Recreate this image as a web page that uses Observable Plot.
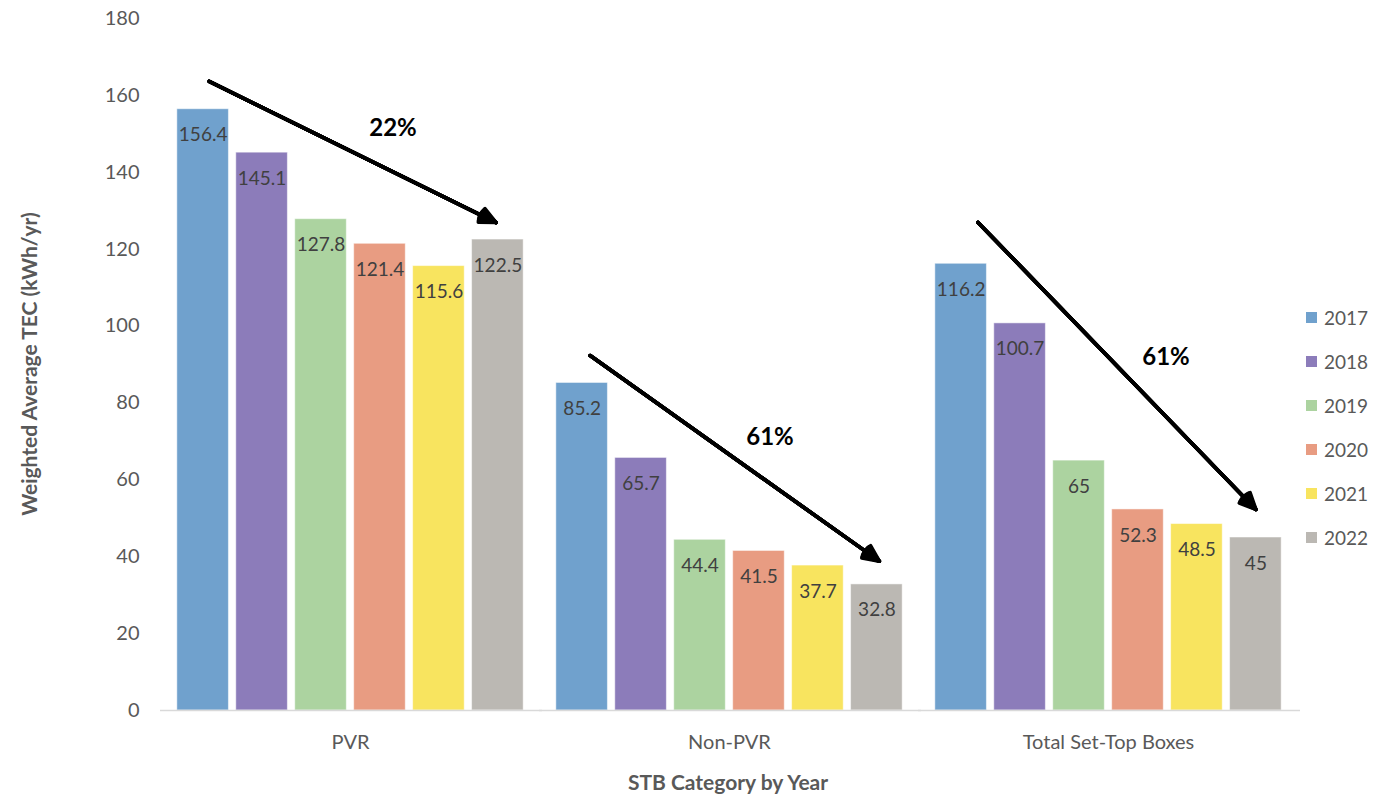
<!DOCTYPE html>
<html><head><meta charset="utf-8">
<script src="https://cdn.jsdelivr.net/npm/d3@7"></script>
<script src="https://cdn.jsdelivr.net/npm/@observablehq/plot@0.6"></script>
<style>
body{margin:0;background:#fff;}
#wrap{position:relative;width:1380px;height:795px;font-family:Lato, sans-serif;}
#ytitle{position:absolute;left:28px;top:364px;transform:translate(-50%,-50%) rotate(-90deg);white-space:nowrap;font-weight:bold;font-size:21px;color:#595959;}
#xtitle{position:absolute;left:728px;top:781px;transform:translate(-50%,-50%);white-space:nowrap;font-weight:bold;font-size:21px;color:#595959;}
#legend{position:absolute;left:1306px;top:295px;}
.item{display:flex;align-items:center;height:44px;font-size:19px;color:#595959;}
.sw{width:11px;height:11px;margin-right:7px;}
</style>
</head><body>
<div id="wrap"><div id="chart"></div><div id="ytitle"></div><div id="xtitle"></div><div id="legend"></div></div>
<script>
const categories = ["PVR", "Non-PVR", "Total Set-Top Boxes"];
const years = ["2017", "2018", "2019", "2020", "2021", "2022"];
const pvrValues = [156.4, 145.1, 127.8, 121.4, 115.6, 122.5];
const nonPvrValues = [85.2, 65.7, 44.4, 41.5, 37.7, 32.8];
const totalValues = [116.2, 100.7, 65, 52.3, 48.5, 45];
const yearColors = ["#70a1cd", "#8c7cba", "#acd3a0", "#e89c82", "#f8e45f", "#bbb8b3"];
const yTicks = [0, 20, 40, 60, 80, 100, 120, 140, 160, 180];
const yTitle = "Weighted Average TEC (kWh/yr)";
const xTitle = "STB Category by Year";

// trend annotations (data units)
const trendCategory = ["PVR", "Non-PVR", "Total Set-Top Boxes"];
const trendStartY = [164.4, 93.8, 131.5];
const trendEndY = [126.7, 39.3, 52.3];
const trendLabel = ["22%", "61%", "61%"];
const trendLabelY = [151.4, 71.0, 91.8];

const seriesByCategory = [pvrValues, nonPvrValues, totalValues];
const bars = categories.flatMap((c, ci) => years.map((y, yi) => ({category: c, year: y, value: seriesByCategory[ci][yi]})));
const trends = trendCategory.map((c, i) => ({category: c, y1: trendStartY[i], y2: trendEndY[i], label: trendLabel[i], ly: trendLabelY[i]}));

const labelDx = [13, 11, 28];
const startInset = [6.7, 9.8, 24.3];
const endInset = [2, -3, 0];
const arrowMarks = trends.flatMap((t, i) => [50, 40, 30, 20, 10, 0].map(a => Plot.arrow([t], {
  fx: "category", x1: () => "2017", x2: () => "2022", y1: "y1", y2: "y2",
  stroke: "black", strokeWidth: 3.6, headLength: 7.4, headAngle: a, strokeLinejoin: "miter",
  insetStart: startInset[i], insetEnd: endInset[i]
})));
const labelMarks = trends.map((t, i) => Plot.text([t], {
  fx: "category", x: () => "2020", y: "ly", text: "label", dx: labelDx[i],
  fontSize: 24, fontWeight: "bold", fill: "black"
}));

const chart = Plot.plot({
  width: 1380, height: 795,
  marginLeft: 160, marginRight: 83, marginTop: 18, marginBottom: 85,
  style: {fontFamily: "Lato, sans-serif", fontSize: "20px", background: "white", color: "#595959"},
  fx: {domain: categories, paddingInner: 0.066, paddingOuter: 0.032, label: null, axis: "bottom", tickSize: 0, tickPadding: 24},
  x: {domain: years, paddingInner: 0.125, paddingOuter: 0.065, axis: null, round: false},
  y: {domain: [0, 180], ticks: yTicks, tickSize: 0, tickPadding: 34, label: null},
  color: {domain: years, range: yearColors},
  marks: [
    Plot.barY(bars, {fx: "category", x: "year", y: "value", fill: "year", stroke: "white", strokeOpacity: 0.5, strokeWidth: 1}),
    Plot.ruleY([0], {stroke: "#d9d9d9", strokeWidth: 1.5, insetLeft: -13, insetRight: -15}),
    Plot.text(bars, {fx: "category", x: "year", y: "value", text: d => String(d.value), dy: 26, fill: "#404040", fontSize: 19}),
    ...arrowMarks,
    ...labelMarks
  ]
});
document.getElementById("chart").appendChild(chart);
document.getElementById("ytitle").textContent = yTitle;
document.getElementById("xtitle").textContent = xTitle;
const legend = document.getElementById("legend");
years.forEach((y, i) => {
  const item = document.createElement("div");
  item.className = "item";
  const sw = document.createElement("div");
  sw.className = "sw";
  sw.style.background = yearColors[i];
  item.appendChild(sw);
  item.appendChild(document.createTextNode(y));
  legend.appendChild(item);
});
</script>
</body></html>
